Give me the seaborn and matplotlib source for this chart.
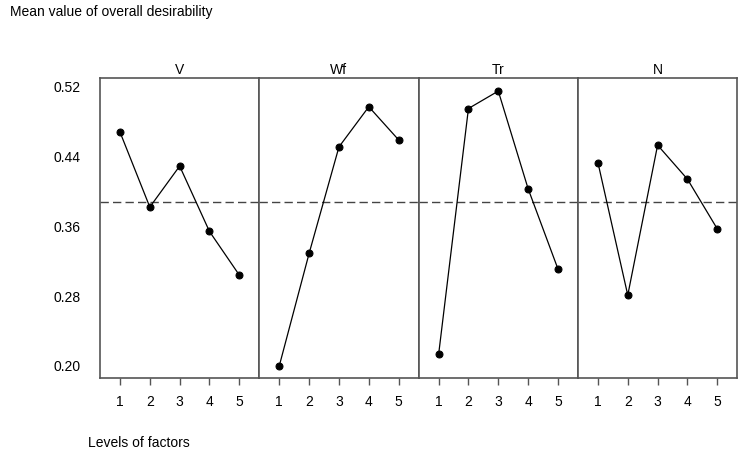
import matplotlib
matplotlib.use('Agg')
import matplotlib.pyplot as plt
import pandas as pd
import seaborn as sns

sns.set_style('white')
plt.rcParams['font.family'] = ['Liberation Sans Narrow', 'Liberation Sans', 'DejaVu Sans']
plt.rcParams['font.size'] = 10
plt.rcParams['text.color'] = 'black'
plt.rcParams['xtick.color'] = 'black'
plt.rcParams['ytick.color'] = 'black'

# Data
factors = ['V', 'Wf', 'Tr', 'N']
levels = [1, 2, 3, 4, 5]
v_means = [0.468, 0.382, 0.429, 0.354, 0.304]
wf_means = [0.200, 0.329, 0.451, 0.497, 0.459]
tr_means = [0.213, 0.495, 0.515, 0.403, 0.311]
n_means = [0.433, 0.281, 0.453, 0.414, 0.357]
y_ticks = [0.20, 0.28, 0.36, 0.44, 0.52]

df = pd.DataFrame({
    'factor': [f for f in factors for _ in levels],
    'level': levels * len(factors),
    'mean': v_means + wf_means + tr_means + n_means,
})
grand_mean = df['mean'].mean()

fig, axes = plt.subplots(1, 4, figsize=(7.38, 4.55), dpi=100, sharey=True)
fig.subplots_adjust(left=0.1355, right=0.999, top=0.8286, bottom=0.1692, wspace=0)

frame_col = '#555555'
for ax, fac in zip(axes, factors):
    sub = df[df['factor'] == fac]
    sns.lineplot(data=sub, x='level', y='mean', ax=ax, color='black', lw=0.9,
                 marker='o', markersize=5, markeredgecolor='black')
    ax.axhline(grand_mean, color='#444444', lw=1, ls=(0, (6, 3)), zorder=0)
    ax.set_xlim(0.33, 5.67)
    ax.set_ylim(0.186, 0.530)
    ax.set_xticks(levels)
    ax.set_xlabel('')
    ax.set_ylabel('')
    ax.set_title(fac, fontsize=10, pad=3, color='black')
    for s in ax.spines.values():
        s.set_color(frame_col)
        s.set_linewidth(1.2)
    ax.tick_params(axis='x', length=5, width=1, color=frame_col, pad=7, bottom=True,
                   labelcolor='black')
    ax.tick_params(axis='y', length=7, width=1, color=frame_col, pad=7,
                   labelcolor='black')

axes[0].set_yticks(y_ticks)
axes[0].set_yticklabels([f'{t:.2f}' for t in y_ticks])
for ax in axes[1:]:
    ax.tick_params(axis='y', left=False)

fig.text(10 / 738, 1 - 12 / 455, 'Mean value of overall desirability', ha='left', va='center', fontsize=10)
fig.text(88 / 738, 1 - 443 / 455, 'Levels of factors', ha='left', va='center', fontsize=10)

fig.savefig('out.png', dpi=100)
plt.close()
